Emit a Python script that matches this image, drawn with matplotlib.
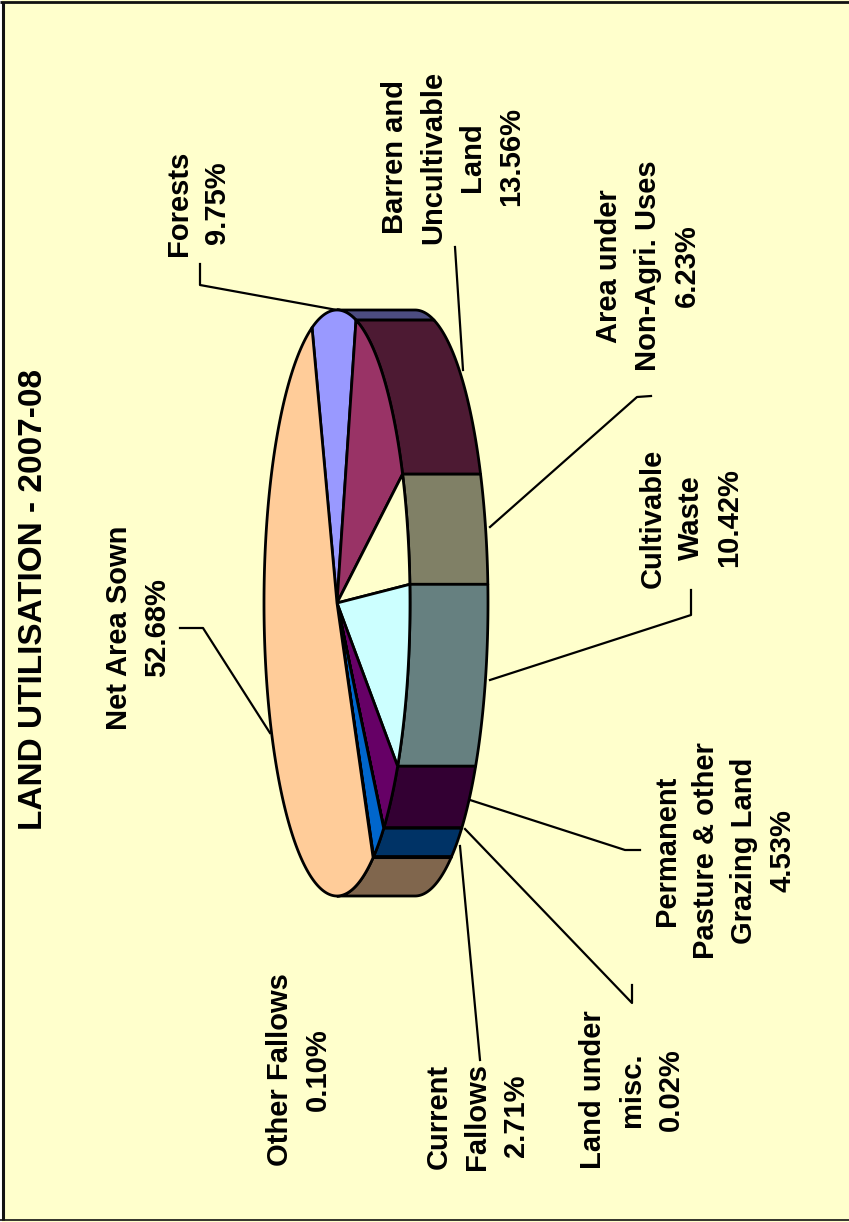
import numpy as np
import matplotlib
matplotlib.use('Agg')
import matplotlib.pyplot as plt
from matplotlib.patches import Polygon

plt.rcParams['font.family'] = ['Liberation Sans', 'DejaVu Sans']

# Land use shares in %, in drawing order around the pie
categories = ['Forests', 'Barren and\nUncultivable\nLand', 'Area under\nNon-Agri. Uses',
              'Cultivable\nWaste', 'Permanent\nPasture & other\nGrazing Land',
              'Land under\nmisc.', 'Current\nFallows', 'Other Fallows', 'Net Area Sown']
shares = [9.75, 13.56, 6.23, 10.42, 4.53, 0.02, 2.71, 0.10, 52.68]

top_colors = ['#9999FF', '#993366', '#FFFFCC', '#CCFFFF', '#660066',
              '#FF8080', '#0066CC', '#CCCCFF', '#FFCC99']
wall_colors = ['#4D4D80', '#4D1A33', '#808066', '#668080', '#330033',
               '#804040', '#003366', '#666680', '#80664D']

# label centre (x, y) in image pixels
label_pos = [(198, 203), (453, 157), (648, 266), (691, 518), (725, 851),
             (632, 1090), (477, 1116), (299, 1070), (138, 628)]

# leader lines, image pixels
leaders = [
    [(200, 264), (200, 285), (337, 310)],
    [(455, 247), (463, 370)],
    [(651, 396), (637, 397), (490, 527)],
    [(691, 590), (691, 615), (490, 680)],
    [(640, 850), (625, 850), (470, 800)],
    [(632, 985), (632, 1003), (465, 829)],
    [(480, 1060), (460, 846)],
    [(180, 628), (203, 628), (270, 733)],
]

cx, cy = 337, 603
rx, ry = 73, 293
depth = 78
start_angle = 250
yellow = '#FFFFCC'
lw = 2.0


def arc(t0, t1):
    t = np.radians(np.linspace(t0, t1, max(int(abs(t1 - t0) * 2), 2)))
    return np.column_stack([cx + rx * np.cos(t), cy + ry * np.sin(t)])


fig = plt.figure(figsize=(8.49, 12.22), dpi=100, facecolor=yellow)
ax = fig.add_axes([0, 0, 1, 1])
ax.set_xlim(0, 849)
ax.set_ylim(1222, 0)
ax.axis('off')

# outer frame
ax.plot([3, 3], [2, 1220], color='#111111', lw=2.2, solid_capstyle='butt')
ax.plot([0, 849], [2, 2], color='#111111', lw=2.0, solid_capstyle='butt')
ax.plot([0, 849], [1220, 1220], color='#111111', lw=1.2, solid_capstyle='butt')
ax.fill_between([0, 2], 0, 1222, color='white', lw=0)

for line in leaders:
    xs, ys = zip(*line)
    ax.plot(xs, ys, color='black', lw=1.6)

edges = start_angle + np.cumsum([0] + shares) * 3.6

# side wall, only the part that faces the viewer (right side of rotated pie)
for i in range(len(shares)):
    for lo, hi in [(270, 450), (630, 810)]:
        t0, t1 = max(edges[i], lo), min(edges[i + 1], hi)
        if t1 <= t0:
            continue
        front = arc(t0, t1)
        back = front[::-1] + [depth, 0]
        ax.add_patch(Polygon(np.vstack([front, back]), closed=True, fc=wall_colors[i],
                             ec='black', lw=lw, joinstyle='round', zorder=3))

# top face
for i in range(len(shares)):
    pts = np.vstack([[cx, cy], arc(edges[i], edges[i + 1])])
    ax.add_patch(Polygon(pts, closed=True, fc=top_colors[i], ec='black', lw=lw,
                         joinstyle='round', zorder=4))

for name, val, (x, y) in zip(categories, shares, label_pos):
    ax.text(x, y, f'{name}\n{val:.2f}%', rotation=90, ha='center', va='center',
            multialignment='center', fontsize=21, fontweight='bold', linespacing=1.48,
            color='black', zorder=6)

ax.text(34, 600, 'LAND UTILISATION - 2007-08', rotation=90, ha='center', va='center',
        fontsize=24, fontweight='bold', color='black', zorder=6)

fig.savefig('out.png', dpi=100, facecolor=yellow)
